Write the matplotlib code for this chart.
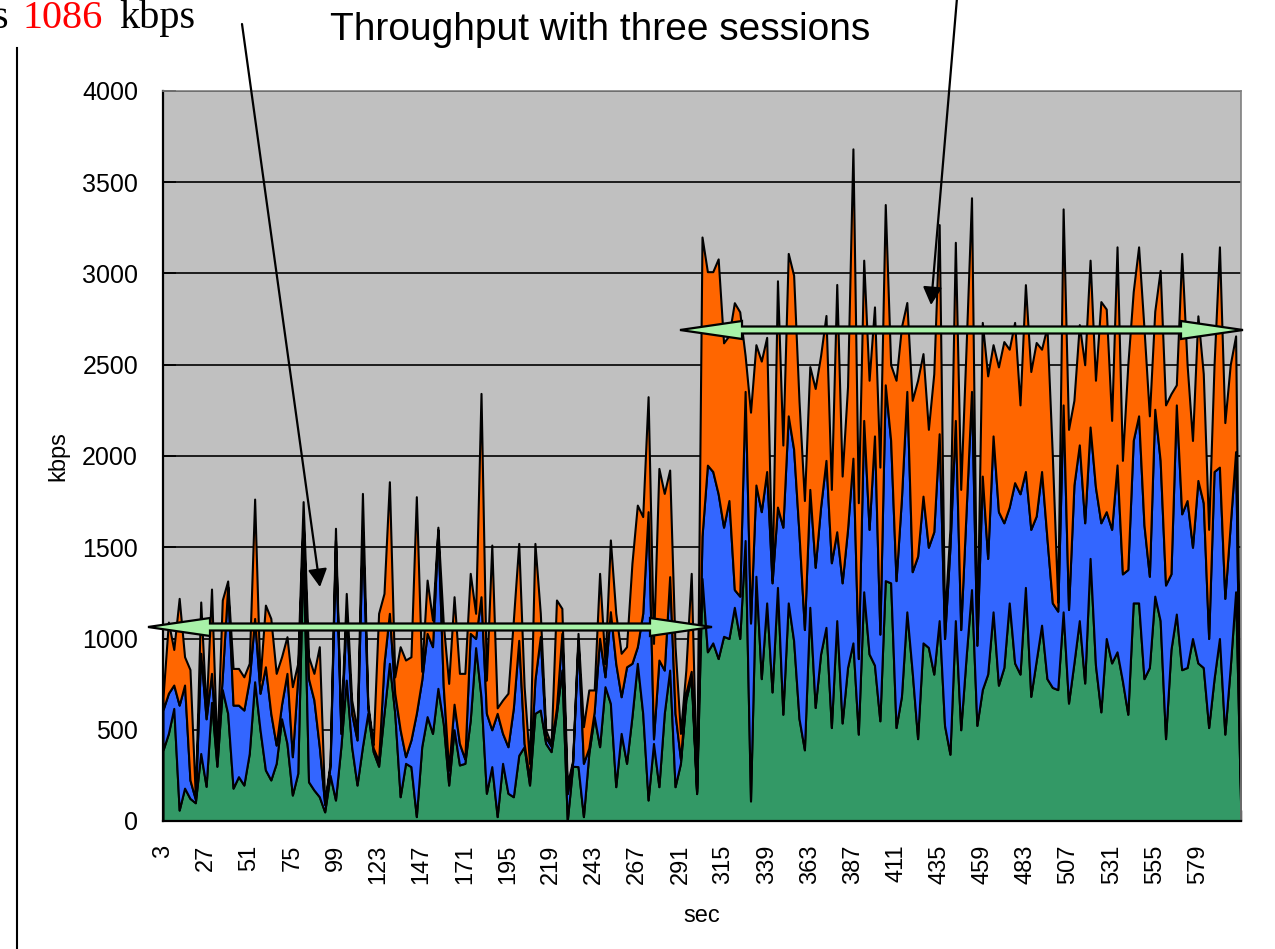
import numpy as np
import matplotlib
matplotlib.use("Agg")
import matplotlib.pyplot as plt
from matplotlib.patches import Polygon
from matplotlib.lines import Line2D

plt.rcParams['font.family'] = ['Liberation Sans', 'DejaVu Sans']

# ---------------- data ----------------
seconds = list(range(3, 604, 3))          # 201 categories, 3 .. 603
x_label_values = [3, 27, 51, 75, 99, 123, 147, 171, 195, 219, 243, 267, 291,
                  315, 339, 363, 387, 411, 435, 459, 483, 507, 531, 555, 579]
y_ticks = [0, 500, 1000, 1500, 2000, 2500, 3000, 3500, 4000]

session1 = [389, 480, 617, 60, 180, 124, 100, 370, 190, 650,
            300, 720, 590, 180, 243, 197, 370, 763, 500, 280,
            225, 316, 560, 425, 142, 261, 1500, 215, 170, 133,
            50, 250, 115, 407, 772, 407, 197, 407, 590, 380,
            300, 590, 864, 590, 133, 316, 298, 24, 407, 572,
            480, 727, 535, 197, 500, 307, 316, 553, 950, 680,
            152, 298, 24, 316, 152, 133, 360, 407, 197, 590,
            608, 425, 380, 590, 827, 0, 300, 298, 24, 371,
            572, 407, 736, 645, 188, 480, 316, 572, 864, 590,
            115, 425, 188, 590, 827, 188, 316, 663, 791, 150,
            1329, 927, 976, 890, 1012, 1000, 1171, 1000, 1537, 110,
            1341, 780, 1195, 707, 1280, 585, 1195, 988, 561, 390,
            1171, 622, 915, 1061, 512, 1098, 537, 841, 976, 476,
            1256, 915, 854, 549, 1317, 1305, 512, 683, 1146, 817,
            451, 976, 951, 805, 1098, 524, 366, 1098, 500, 900,
            1268, 524, 720, 805, 1146, 744, 841, 1195, 866, 805,
            1280, 683, 878, 1073, 780, 732, 720, 1146, 646, 866,
            1098, 756, 1439, 854, 598, 1000, 866, 927, 768, 585,
            1195, 1195, 780, 841, 1232, 1098, 451, 939, 1134, 829,
            841, 1000, 866, 841, 512, 780, 1000, 476, 841, 1256,
            0]

session2 = [221, 220, 128, 575, 565, 101, 20, 549, 370, 159,
            60, 70, 694, 455, 392, 411, 402, 347, 200, 565,
            365, 100, 80, 384, 210, 529, 150, 565, 493, 274,
            40, 50, 1425, 73, 366, 183, 247, 1188, 30, 20,
            30, 274, 274, 110, 367, 36, 146, 566, 365, 456,
            475, 868, 201, 83, 140, 118, 24, 475, 50, 549,
            438, 202, 566, 164, 255, 487, 630, 18, 33, 182,
            402, 35, 30, 30, 201, 150, 20, 693, 292, 29,
            28, 594, 54, 502, 676, 201, 529, 292, 91, 548,
            1580, 25, 694, 237, 512, 402, 24, 37, 29, 10,
            231, 1023, 939, 903, 598, 756, 97, 232, 817, 975,
            500, 915, 720, 598, 440, 1025, 1025, 1049, 1012, 659,
            646, 768, 805, 915, 903, 487, 768, 757, 1012, 414,
            939, 683, 1256, 475, 1073, 780, 805, 1085, 1208, 549,
            1000, 804, 549, 780, 1024, 476, 1134, 1097, 549, 800,
            1086, 439, 1170, 634, 964, 951, 793, 525, 988, 988,
            635, 915, 793, 842, 769, 463, 430, 1134, 513, 975,
            963, 878, 720, 975, 1036, 695, 732, 1024, 586, 793,
            890, 1025, 842, 500, 1024, 878, 842, 415, 1146, 854,
            915, 500, 1000, 903, 488, 1135, 939, 744, 781, 768,
            0]

session3 = [70, 390, 195, 585, 155, 605, 13, 281, 40, 462,
            20, 421, 31, 201, 201, 182, 92, 654, 72, 338,
            520, 393, 260, 201, 384, 74, 100, 120, 146, 548,
            10, 20, 64, 20, 109, 73, 56, 200, 20, 20,
            808, 383, 721, 90, 455, 530, 456, 1187, 48, 292,
            146, 15, 347, 474, 589, 384, 469, 329, 138, 1114,
            182, 1012, 30, 183, 293, 481, 531, 311, 86, 749,
            128, 40, 10, 591, 137, 50, 10, 37, 201, 318,
            118, 356, 74, 393, 274, 238, 110, 548, 776, 530,
            630, 523, 1050, 968, 584, 365, 140, 127, 537, 20,
            1640, 1060, 1095, 1287, 1010, 904, 1572, 1558, 196, 1155,
            769, 825, 735, 15, 1240, 450, 890, 953, 727, 707,
            673, 980, 830, 794, 402, 1355, 585, 782, 1695, 854,
            878, 817, 707, 915, 988, 415, 1098, 939, 487, 939,
            964, 781, 646, 866, 1146, 100, 100, 976, 768, 900,
            1061, 37, 842, 1000, 500, 793, 993, 865, 878, 487,
            1024, 865, 951, 670, 1158, 805, 50, 1074, 987, 464,
            659, 866, 914, 586, 1212, 1110, 597, 1195, 622, 1122,
            815, 926, 1078, 879, 537, 1041, 987, 987, 110, 1427,
            744, 585, 902, 707, 598, 585, 1207, 963, 878, 634,
            0]

colors = ['#339966', '#3366FF', '#FF6600']

# ---------------- figure ----------------
W, H = 1275, 949
fig = plt.figure(figsize=(W / 100, H / 100), dpi=100)
fig.patch.set_facecolor('white')

def fx(px):
    return px / W

def fy(py):
    return 1 - py / H

ax = fig.add_axes([fx(163), fy(821), (1241 - 163) / W, (821 - 91) / H])
ax.set_facecolor('#C0C0C0')

ax.stackplot(seconds, session1, session2, session3, colors=colors,
             edgecolor='black', linewidth=1.5)

ax.set_xlim(seconds[0], seconds[-1])
ax.set_ylim(0, 4000)

ax.set_axisbelow(True)
ax.set_yticks(y_ticks)
ax.set_yticklabels([str(v) for v in y_ticks])
ax.yaxis.grid(True, color='black', linewidth=1.2)
ax.xaxis.grid(False)

ax.set_xticks(x_label_values)
ax.set_xticklabels([str(v) for v in x_label_values], rotation=90)
ax.set_xticks(seconds, minor=True)

ax.tick_params(axis='y', direction='in', length=9, width=1.2, labelsize=18,
               pad=18, colors='black')
ax.tick_params(axis='x', which='both', direction='in', length=8, width=1.0,
               labelsize=17, pad=17)

for side in ['left', 'bottom']:
    ax.spines[side].set_color('black')
    ax.spines[side].set_linewidth(1.6)
for side in ['top', 'right']:
    ax.spines[side].set_color('#808080')
    ax.spines[side].set_linewidth(1.2)

ax.set_xlabel('sec', fontsize=17)
ax.xaxis.set_label_coords(0.5, (821 - 922) / (821 - 91))
ax.xaxis.label.set_va('baseline')
ax.set_ylabel('kbps', fontsize=17)
ax.yaxis.set_label_coords((69 - 163) / (1241 - 163), 0.5)

# ---------------- annotations ----------------
fig.text(fx(600), fy(40), 'Throughput with three sessions', fontsize=28,
         ha='center', va='baseline')

serif = ['Liberation Serif', 'DejaVu Serif']
fig.text(fx(8), fy(28), 's', fontsize=29, family=serif, ha='right', va='baseline')
fig.text(fx(23), fy(28), '1086', fontsize=29, family=serif, color='#FF0000',
         ha='left', va='baseline')
fig.text(fx(119), fy(28), 'kbps', fontsize=29, family=serif, ha='left', va='baseline')

fig.add_artist(Line2D([fx(16.5), fx(16.5)], [fy(48), fy(949)], color='black',
                      linewidth=1.5, transform=fig.transFigure))

# green double arrows
def double_arrow(x0, x1, yc, hl=62, hw=9, sw=3.5):
    pts = [(x0, yc), (x0 + hl, yc - hw), (x0 + hl, yc - sw), (x1 - hl, yc - sw),
           (x1 - hl, yc - hw), (x1, yc), (x1 - hl, yc + hw), (x1 - hl, yc + sw),
           (x0 + hl, yc + sw), (x0 + hl, yc + hw)]
    pts = [(fx(a), fy(b)) for a, b in pts]
    poly = Polygon(pts, closed=True, facecolor='#A8F2A8', edgecolor='black',
                   linewidth=1.6, transform=fig.transFigure, zorder=10)
    fig.add_artist(poly)

double_arrow(148, 712, 627)
double_arrow(680, 1243, 330)

# black pointer arrows
arrow_style = dict(arrowstyle='-|>,head_length=0.9,head_width=0.48',
                   mutation_scale=12, lw=1.6, color='black',
                   shrinkA=0, shrinkB=0)
ax.annotate('', xy=(320, H - 587), xycoords='figure pixels',
            xytext=(242, H - 24), textcoords='figure pixels',
            arrowprops=arrow_style, annotation_clip=False, zorder=11)
ax.annotate('', xy=(931, H - 305), xycoords='figure pixels',
            xytext=(957, H + 2), textcoords='figure pixels',
            arrowprops=arrow_style, annotation_clip=False, zorder=11)

fig.savefig('out.png', dpi=100)
